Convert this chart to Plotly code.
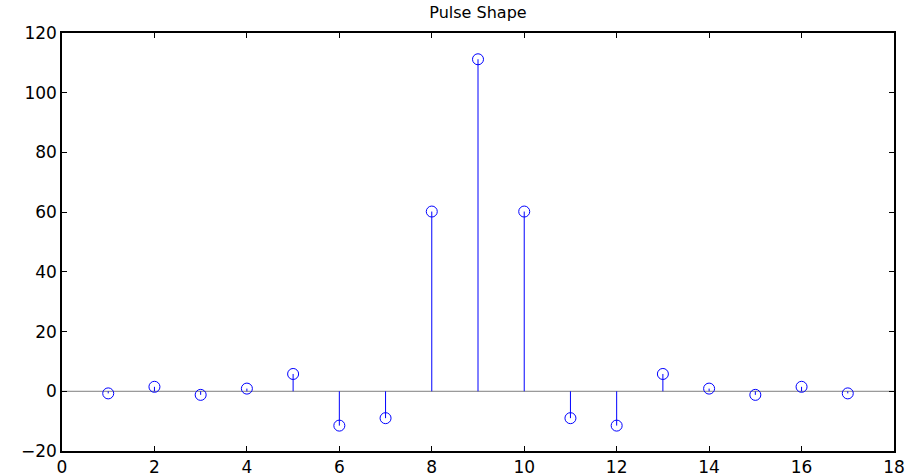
import plotly.graph_objects as go

n = list(range(1, 18))
values = [-0.7, 1.5, -1.2, 0.9, 5.8, -11.5, -9.0, 60.2, 111.2, 60.2, -9.0, -11.5, 5.8, 0.9, -1.2, 1.5, -0.7]
x_ticks = [0, 2, 4, 6, 8, 10, 12, 14, 16, 18]
y_ticks = [-20, 0, 20, 40, 60, 80, 100, 120]
title = "Pulse Shape"

stem_x, stem_y = [], []
for xi, yi in zip(n, values):
    stem_x += [xi, xi, None]
    stem_y += [0, yi, None]

fig = go.Figure()
fig.add_trace(go.Scatter(x=[0, 18], y=[0, 0], mode="lines",
                         line=dict(color="#7f7f7f", width=1), hoverinfo="skip"))
fig.add_trace(go.Scatter(x=stem_x, y=stem_y, mode="lines",
                         line=dict(color="#0000ff", width=1), hoverinfo="skip"))
fig.add_trace(go.Scatter(x=n, y=values, mode="markers",
                         marker=dict(symbol="circle-open", size=11,
                                     color="#0000ff", line=dict(width=1))))

font = dict(family="DejaVu Sans, Arial, sans-serif", size=17, color="black")
axis_common = dict(showgrid=False, zeroline=False, showline=True, linecolor="black",
                   linewidth=1.5, mirror="allticks", ticks="inside", ticklen=5,
                   tickcolor="black", tickfont=font)
fig.update_layout(
    width=911, height=476,
    margin=dict(l=62, r=17, t=33, b=25, autoexpand=False),
    paper_bgcolor="white", plot_bgcolor="white",
    showlegend=False,
    title=dict(text=title, x=0.5, xref="paper", y=0.985, yanchor="top",
               font=dict(family="DejaVu Sans, Arial, sans-serif", size=16, color="black")),
    xaxis=dict(range=[0, 18], tickvals=x_ticks, ticklabelstandoff=0, **axis_common),
    yaxis=dict(range=[-20, 120], tickvals=y_ticks, **axis_common),
)
fig.write_html("out.html", config={"displayModeBar": False},
               post_script="document.body.style.margin='0';")
